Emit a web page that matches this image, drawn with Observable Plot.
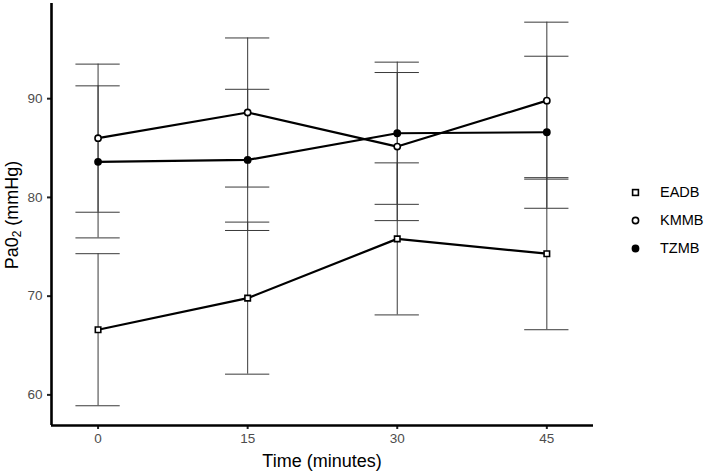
<!DOCTYPE html>
<html>
<head>
<meta charset="utf-8">
<script src="https://cdn.jsdelivr.net/npm/d3@7"></script>
<script src="https://cdn.jsdelivr.net/npm/@observablehq/plot@0.6"></script>
<style>
  html, body { margin: 0; padding: 0; background: #fff; }
  #wrap { position: relative; width: 708px; height: 473px; font-family: "Liberation Sans", Arial, sans-serif; }
  .ytitle { position: absolute; left: 12px; top: 215px; transform: translate(-50%, -50%) rotate(-90deg); white-space: nowrap; font-size: 18px; color: #000; }
  .ytitle sub { font-size: 12px; vertical-align: -3px; line-height: 0; }
  .xtitle { position: absolute; left: 322px; top: 451px; transform: translateX(-50%); white-space: nowrap; font-size: 18px; color: #000; }
  .legend { position: absolute; left: 630px; top: 178px; font-size: 14.5px; color: #000; }
  .legend .row { display: flex; align-items: center; height: 28px; }
  .legend svg { margin-right: 19px; }
</style>
</head>
<body>
<div id="wrap"></div>
<script>
// ---- data ----
const times = [0, 15, 30, 45];
const groups = ["EADB", "KMMB", "TZMB"];
const eadbMean = [66.6, 69.8, 75.8, 74.3];
const eadbSD   = [7.7, 7.7, 7.7, 7.7];
const kmmbMean = [86.0, 88.6, 85.15, 89.8];
const kmmbSD   = [7.5, 7.55, 7.5, 7.95];
const tzmbMean = [83.6, 83.8, 86.5, 86.6];
const tzmbSD   = [7.7, 7.15, 7.2, 7.7];
const xTicks = [0, 15, 30, 45];
const yTicks = [60, 70, 80, 90];

const means = {EADB: eadbMean, KMMB: kmmbMean, TZMB: tzmbMean};
const sds = {EADB: eadbSD, KMMB: kmmbSD, TZMB: tzmbSD};
const data = [];
for (const g of groups) {
  times.forEach((t, i) => {
    data.push({group: g, time: t, mean: means[g][i], lo: means[g][i] - sds[g][i], hi: means[g][i] + sds[g][i]});
  });
}

const capHalf = 2.22;
const xDomain = [-4.67, 49.68];
const yDomain = [56.9, 99.64];
const fillOf = {EADB: "white", KMMB: "white", TZMB: "black"};
const symOf = {EADB: "square", KMMB: "circle", TZMB: "circle"};

const chart = Plot.plot({
  width: 708,
  height: 473,
  marginLeft: 51,
  marginRight: 115,
  marginTop: 3,
  marginBottom: 48,
  style: {fontFamily: "'Liberation Sans', Arial, sans-serif", fontSize: "13.5px", color: "#4d4d4d", background: "white"},
  x: {domain: xDomain, label: null},
  y: {domain: yDomain, label: null},
  marks: [
    Plot.axisX({ticks: xTicks, tickFormat: d => String(d), tickSize: 4, tickPadding: 4, fontSize: 13.5, stroke: "#222", strokeWidth: 2, label: null}),
    Plot.axisY({ticks: yTicks, tickSize: 4, tickPadding: 5, fontSize: 13.5, stroke: "#222", strokeWidth: 2, label: null}),
    // error bars
    Plot.ruleX(data, {x: "time", y1: "lo", y2: "hi", stroke: "#3a3a3a", strokeWidth: 1}),
    Plot.ruleY(data, {y: "hi", x1: d => d.time - capHalf, x2: d => d.time + capHalf, stroke: "#3a3a3a", strokeWidth: 1}),
    Plot.ruleY(data, {y: "lo", x1: d => d.time - capHalf, x2: d => d.time + capHalf, stroke: "#3a3a3a", strokeWidth: 1}),
    // lines
    Plot.line(data, {x: "time", y: "mean", z: "group", stroke: "black", strokeWidth: 2.2}),
    // points
    Plot.dot(data, {x: "time", y: "mean", symbol: d => symOf[d.group], fill: d => fillOf[d.group], stroke: "black", strokeWidth: 1.6, r: 3.1}),
    // axis lines
    Plot.ruleX([xDomain[0]], {stroke: "black", strokeWidth: 2.6}),
    Plot.ruleY([yDomain[0]], {stroke: "black", strokeWidth: 2.6, x1: xDomain[0], x2: xDomain[1]})
  ],
  symbol: {type: "identity"},
  fill: {type: "identity"}
});

const wrap = document.getElementById("wrap");
wrap.appendChild(chart);

const yt = document.createElement("div");
yt.className = "ytitle";
yt.innerHTML = "Pa0<sub>2</sub> (mmHg)";
wrap.appendChild(yt);

const xt = document.createElement("div");
xt.className = "xtitle";
xt.textContent = "Time (minutes)";
wrap.appendChild(xt);

const leg = document.createElement("div");
leg.className = "legend";
for (const g of groups) {
  const row = document.createElement("div");
  row.className = "row";
  const shape = symOf[g] === "square"
    ? `<rect x="2.6" y="2.6" width="5.8" height="5.8" fill="${fillOf[g]}" stroke="black" stroke-width="1.6"/>`
    : `<circle cx="5.5" cy="5.5" r="3.1" fill="${fillOf[g]}" stroke="black" stroke-width="1.6"/>`;
  row.innerHTML = `<svg width="11" height="11">${shape}</svg><span>${g}</span>`;
  leg.appendChild(row);
}
wrap.appendChild(leg);
</script>
</body>
</html>
